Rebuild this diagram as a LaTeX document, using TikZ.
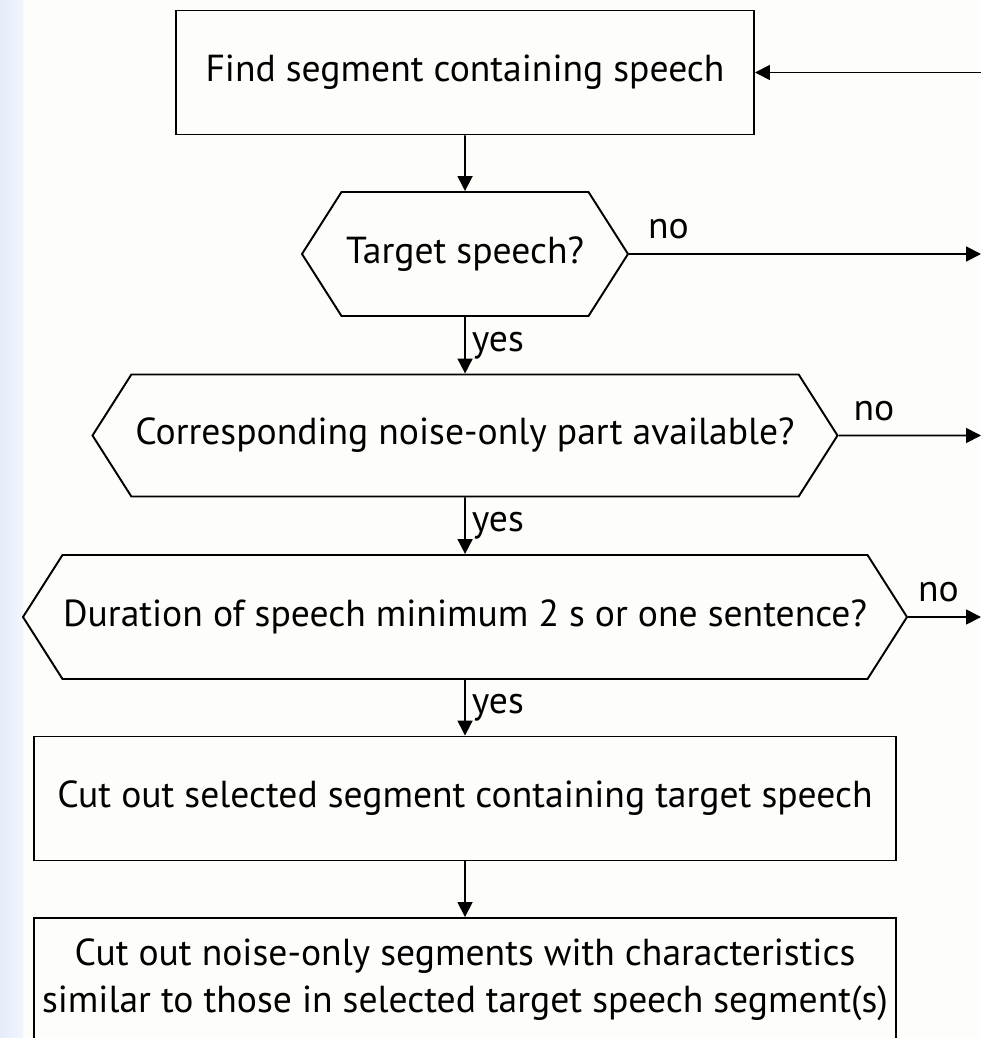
\documentclass[tikz,border=0pt]{standalone}
\usepackage{fontspec}
\setmainfont{PT Sans}
\usetikzlibrary{shapes.symbols, arrows.meta}
\definecolor{paper}{RGB}{253,253,249}
\definecolor{stripdark}{RGB}{229,237,250}
\definecolor{striplight}{RGB}{241,245,252}
\tikzstyle{process} = [rectangle, minimum width=17.24cm, minimum height=2.48cm, text centered, align=center, draw=black, line width=1.1pt]
\tikzstyle{decision} = [signal, signal to=west and east, signal pointer angle=115, minimum height=2.48cm, inner xsep=0pt, text centered, draw=black, line width=1.1pt]
\tikzstyle{arrow} = [line width=1pt, -{Triangle[length=0.3cm, width=0.3cm]}]
\tikzstyle{nolabel} = [anchor=south west, inner sep=0.28cm]

\begin{document}
\begin{tikzpicture}[node distance=3.63cm, font=\fontsize{21.4}{27}\selectfont]
\fill[paper] (0,0) rectangle (19.6,-20.76);
\shade[left color=stripdark, right color=striplight] (0,0) rectangle (0.46,-20.76);
\useasboundingbox (0,0) rectangle (19.6,-20.76);
\node (find) [process, minimum width=11.56cm] at (9.3,-1.45) {Find segment containing speech};
\node (target) [decision, minimum width=6.52cm, below of = find] {Target speech?};
\node (noise) [decision, minimum width=14.9cm, minimum height=2.44cm, below of = target] {Corresponding noise-only part available?};
\node (duration) [decision, minimum width=17.68cm, below of = noise] {Duration of speech minimum 2 s or one sentence?};
\node (cutspeech) [process, below of = duration] {Cut out selected segment containing target speech};
\node (cutnoise) [process, below of = cutspeech] {Cut out noise-only segments with characteristics\\similar to those in selected target speech segment(s)};
% loose ends on the right edge
\coordinate (back) at (19.9,-1.45);
\coordinate (noA) at (19.62,-5.08);
\coordinate (noB) at (19.62,-8.71);
\coordinate (noC) at (19.62,-12.34);
\draw [arrow] (back) -- (find);
\draw [arrow] (find) -- (target);
\draw [arrow] (target) -- node[pos=0, nolabel, xshift=0.08cm]{no} (noA);
\draw [arrow] (target) -- node[anchor=west]{yes} (noise);
\draw [arrow] (noise) -- node[pos=0, nolabel]{no} (noB);
\draw [arrow] (noise) -- node[anchor=west]{yes} (duration);
\draw [arrow] (duration) -- node[pos=0, nolabel, xshift=-0.1cm]{no} (noC);
\draw [arrow] (duration) -- node[anchor=west]{yes} (cutspeech);
\draw [arrow] (cutspeech) -- (cutnoise);
\end{tikzpicture}
\end{document}
